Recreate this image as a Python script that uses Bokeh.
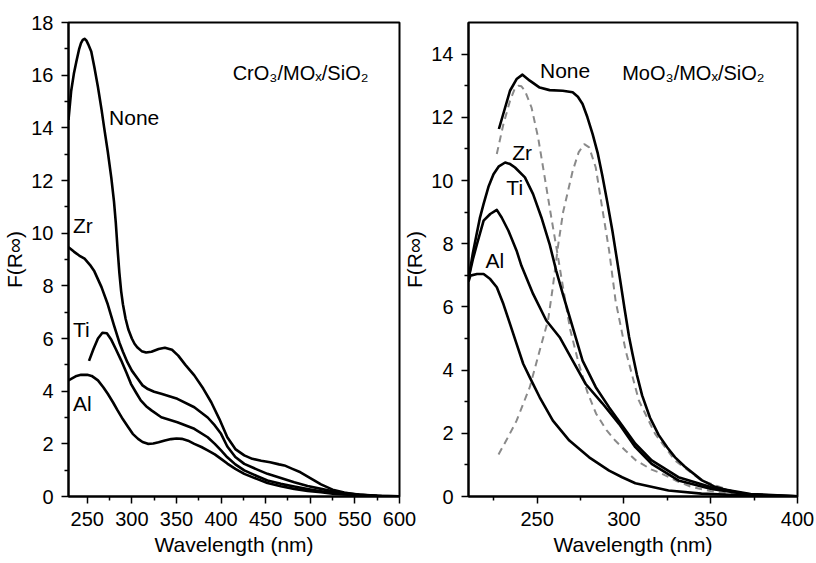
from bokeh.plotting import figure
from bokeh.layouts import row
from bokeh.models import FixedTicker, Range1d, ColumnDataSource
from bokeh.core.properties import value
from bokeh.embed import file_html
from bokeh.resources import INLINE

FONT = "Liberation Sans"

# ---------------- Left panel: CrO3/MOx/SiO2 ----------------
cr_none_wl = [229, 232, 235, 238, 241, 243, 245, 247, 249, 251, 254.5, 258, 262, 266, 269, 273, 277, 280, 282,
              284, 286, 288, 290, 293, 296, 300, 303, 306, 311, 316, 322, 330, 337, 345, 352, 360, 370, 380,
              389, 398, 407, 416, 426, 435, 445, 455, 465, 471, 480, 489, 500, 512, 525, 538, 550, 564, 580, 600]
cr_none_f = [14.3, 15.4, 16.05, 16.55, 17.0, 17.22, 17.34, 17.38, 17.32, 17.18, 16.9, 16.3, 15.55, 14.7, 14.0,
             13.1, 12.1, 11.2, 10.4, 9.4, 8.5, 7.8, 7.3, 6.75, 6.35, 6.0, 5.8, 5.67, 5.52, 5.47, 5.5, 5.6,
             5.65, 5.57, 5.35, 5.0, 4.6, 4.1, 3.58, 2.95, 2.25, 1.8, 1.56, 1.43, 1.36, 1.3, 1.22, 1.18, 1.05,
             0.92, 0.7, 0.46, 0.26, 0.15, 0.08, 0.05, 0.02, 0.01]

cr_zr_wl = [229, 235, 241, 247, 253, 258, 266, 273, 280, 286, 290, 295, 300, 307, 312, 318, 325, 333, 351, 370,
            385, 393, 400, 407, 416, 426, 440, 452, 467, 482, 497, 512, 525, 538, 555, 575, 600]
cr_zr_f = [9.47, 9.3, 9.15, 9.03, 8.8, 8.55, 7.95, 7.3, 6.5, 5.85, 5.5, 5.1, 4.78, 4.45, 4.22, 4.08, 3.98,
           3.9, 3.71, 3.39, 3.0, 2.7, 2.38, 1.9, 1.5, 1.24, 1.03, 0.86, 0.7, 0.54, 0.4, 0.29, 0.2, 0.13, 0.07,
           0.03, 0.01]

cr_ti_wl = [252, 257, 262, 267, 272, 277, 282, 288, 294, 299, 305, 310, 316, 322, 333, 351, 370, 385, 393, 400,
            407, 416, 426, 440, 452, 467, 482, 497, 512, 525, 538, 555, 575, 600]
cr_ti_f = [5.15, 5.6, 6.0, 6.22, 6.2, 5.95, 5.6, 5.17, 4.7, 4.28, 3.93, 3.65, 3.43, 3.27, 3.01, 2.82, 2.57,
           2.25, 2.0, 1.75, 1.49, 1.22, 0.99, 0.78, 0.61, 0.48, 0.38, 0.28, 0.2, 0.14, 0.1, 0.05, 0.02, 0.01]

cr_al_wl = [229, 232, 238, 243, 250, 255, 262, 268, 273, 279, 284, 290, 296, 301, 307, 312, 318, 324, 330,
            337, 344, 350, 356, 363, 370, 378, 385, 393, 400, 407, 416, 426, 440, 452, 467, 482, 497, 512,
            525, 538, 555, 575, 600]
cr_al_f = [4.41, 4.47, 4.58, 4.62, 4.62, 4.58, 4.41, 4.15, 3.9, 3.57, 3.27, 2.93, 2.63, 2.38, 2.19, 2.07,
           2.0, 2.01, 2.06, 2.13, 2.18, 2.2, 2.19, 2.12, 2.0, 1.88, 1.75, 1.6, 1.43, 1.25, 1.05, 0.86, 0.67,
           0.51, 0.39, 0.29, 0.21, 0.16, 0.11, 0.08, 0.04, 0.02, 0.01]

cr_labels = ["None", "Zr", "Ti", "Al"]
cr_label_x = [274.5, 234, 234, 234]
cr_label_y = [14.4, 10.3, 6.35, 3.53]
cr_title = "CrO\u2083/MO\u2093/SiO\u2082"
cr_title_x = [413]
cr_title_y = [16.07]

cr_x_major = [250, 300, 350, 400, 450, 500, 550, 600]
cr_x_minor = [275, 325, 375, 425, 475, 525, 575]
cr_y_major = [0, 2, 4, 6, 8, 10, 12, 14, 16, 18]
cr_y_minor = [1, 3, 5, 7, 9, 11, 13, 15, 17]

# ---------------- Right panel: MoO3/MOx/SiO2 ----------------
mo_none_wl = [228, 231.6, 234.4, 238.2, 241.6, 245.8, 251.5, 257.2, 264.8, 270.5, 273.5, 276.2, 279, 282,
              285, 287.6, 290.5, 293.4, 296, 298, 300.5, 303, 305, 307.5, 310.5, 315, 320, 325, 329.5, 335,
              345, 352, 360, 370, 379, 390, 400]
mo_none_f = [11.63, 12.31, 12.84, 13.21, 13.35, 13.16, 12.94, 12.86, 12.84, 12.79, 12.65, 12.42, 12.0, 11.47,
             10.85, 10.15, 9.3, 8.4, 7.5, 6.8, 5.9, 5.05, 4.5, 3.85, 3.2, 2.5, 1.95, 1.55, 1.24, 0.95, 0.51,
             0.32, 0.19, 0.08, 0.03, 0.01, 0.0]

mo_zr_wl = [211, 213, 215, 217, 219.2, 222, 224.9, 228, 231.6, 234.5, 237.3, 243, 247.7, 252.5, 257.2, 261,
            264.8, 270.5, 276.2, 283.8, 291.5, 299, 306.6, 316, 331.4, 350.4, 373, 400]
mo_zr_f = [7.04, 7.7, 8.25, 8.8, 9.26, 9.8, 10.2, 10.45, 10.57, 10.52, 10.41, 10.1, 9.57, 8.83, 7.99, 7.15,
           6.41, 5.36, 4.3, 3.46, 2.82, 2.25, 1.67, 1.14, 0.61, 0.29, 0.08, 0.01]

mo_ti_wl = [210.5, 213, 215.4, 219.2, 223, 226.8, 229.6, 233.5, 238.2, 241, 247.7, 255.3, 263, 270.5, 278,
            287.6, 297.2, 306.6, 316, 331.4, 350.4, 373, 400]
mo_ti_f = [6.9, 7.5, 7.99, 8.73, 8.94, 9.07, 8.83, 8.41, 7.78, 7.3, 6.41, 5.57, 5.04, 4.3, 3.56, 2.95, 2.3,
           1.56, 1.03, 0.51, 0.24, 0.06, 0.01]

mo_al_wl = [210.5, 211.6, 215.4, 219.2, 223, 226.8, 230.6, 234.4, 238.2, 242, 245.8, 251.5, 259.1, 268.6,
            280, 291.5, 299, 306.6, 325.7, 344.7, 370, 400]
mo_al_f = [6.8, 6.99, 7.04, 7.04, 6.88, 6.62, 6.09, 5.46, 4.83, 4.2, 3.77, 3.14, 2.4, 1.77, 1.24, 0.82, 0.61,
           0.42, 0.19, 0.09, 0.03, 0.01]

mo_fit1_wl = [226.8, 230.6, 234.4, 237, 239.2, 241, 243, 246.8, 250.6, 254.4, 258.2, 262, 265, 269, 274, 279,
              284, 290, 295, 301, 307, 316, 322, 330, 339, 350, 360, 375, 400]
mo_fit1_f = [10.84, 11.78, 12.52, 12.88, 13.0, 12.98, 12.84, 12.31, 11.36, 10.1, 8.83, 7.6, 6.6, 5.3, 4.2,
             3.3, 2.62, 2.1, 1.77, 1.45, 1.14, 0.85, 0.72, 0.5, 0.3, 0.17, 0.09, 0.04, 0.01]

mo_fit2_wl = [227.8, 233, 238.2, 245.8, 251.5, 256.3, 259, 262, 265, 270.5, 274, 277.2, 280, 283.8, 287.6,
              291.5, 295.2, 301, 308.6, 318, 329.5, 344.7, 363.7, 380, 400]
mo_fit2_f = [1.33, 1.85, 2.4, 3.46, 4.62, 5.57, 6.6, 7.9, 9.0, 10.3, 10.9, 11.15, 11.05, 10.41, 9.1, 7.78, 6.2,
             4.62, 3.04, 1.98, 1.14, 0.51, 0.14, 0.04, 0.01]

mo_labels = ["None", "Zr", "Ti", "Al"]
mo_label_x = [251.7, 235.7, 232.3, 220.3]
mo_label_y = [13.47, 10.88, 9.77, 7.46]
mo_title = "MoO\u2083/MO\u2093/SiO\u2082"
mo_title_x = [299]
mo_title_y = [13.4]

mo_x_major = [250, 300, 350, 400]
mo_x_minor = [225, 275, 325, 375]
mo_y_major = [0, 2, 4, 6, 8, 10, 12, 14]
mo_y_minor = [1, 3, 5, 7, 9, 11, 13]

x_label = "Wavelength (nm)"
y_label = "F(R\u221e)"


def style(p, xmaj, xmin, ymaj, ymin):
    p.grid.visible = False
    p.outline_line_color = "black"
    p.outline_line_width = 2
    p.outline_line_alpha = 1
    p.xaxis.ticker = FixedTicker(ticks=xmaj, minor_ticks=xmin)
    p.yaxis.ticker = FixedTicker(ticks=ymaj, minor_ticks=ymin)
    for ax in (p.xaxis, p.yaxis):
        ax.axis_line_width = 2
        ax.axis_line_color = "black"
        ax.major_tick_in = 0
        ax.major_tick_out = 7
        ax.minor_tick_in = 0
        ax.minor_tick_out = 4
        ax.major_tick_line_width = 1.5
        ax.minor_tick_line_width = 1.5
        ax.major_tick_line_color = "black"
        ax.minor_tick_line_color = "black"
        ax.major_label_text_font = FONT
        ax.major_label_text_font_size = "20px"
        ax.major_label_text_color = "black"
        ax.axis_label_text_font = FONT
        ax.axis_label_text_font_size = "21px"
        ax.axis_label_text_font_style = "normal"
        ax.axis_label_text_color = "black"
    p.xaxis.major_label_standoff = 8
    p.yaxis.major_label_standoff = 8
    p.xaxis.axis_label = x_label
    p.yaxis.axis_label = y_label
    p.xaxis.axis_label_standoff = 4
    p.yaxis.axis_label_standoff = 2


def add_text(p, xs, ys, texts, size="21px"):
    src = ColumnDataSource(dict(x=xs, y=ys, t=texts))
    p.text(x="x", y="y", text="t", source=src, text_font=value(FONT), text_font_size=size,
           text_color="black", text_align="left", text_baseline="middle")


# Left figure
p1 = figure(width=416, height=563, output_backend="svg", toolbar_location=None,
            x_range=Range1d(229, 600), y_range=Range1d(0, 18),
            min_border_left=67, min_border_right=17, min_border_top=22, min_border_bottom=67)
style(p1, cr_x_major, cr_x_minor, cr_y_major, cr_y_minor)
for wl, f in [(cr_none_wl, cr_none_f), (cr_zr_wl, cr_zr_f), (cr_ti_wl, cr_ti_f), (cr_al_wl, cr_al_f)]:
    p1.line(wl, f, line_color="black", line_width=2.6, line_join="round")
add_text(p1, cr_label_x, cr_label_y, cr_labels)
add_text(p1, cr_title_x, cr_title_y, [cr_title], size="20px")

# Right figure (overlaps the left canvas by 16 px; its border is transparent)
p2 = figure(width=416, height=563, output_backend="svg", toolbar_location=None,
            x_range=Range1d(210.5, 400), y_range=Range1d(0, 15),
            min_border_left=65, min_border_right=19, min_border_top=22, min_border_bottom=67)
style(p2, mo_x_major, mo_x_minor, mo_y_major, mo_y_minor)
p2.border_fill_alpha = 0
p2.margin = (0, 0, 0, -16)
for wl, f in [(mo_fit1_wl, mo_fit1_f), (mo_fit2_wl, mo_fit2_f)]:
    p2.line(wl, f, line_color="#8a8a8a", line_width=2, line_dash="7 5")
for wl, f in [(mo_none_wl, mo_none_f), (mo_zr_wl, mo_zr_f), (mo_ti_wl, mo_ti_f), (mo_al_wl, mo_al_f)]:
    p2.line(wl, f, line_color="black", line_width=2.6, line_join="round")
add_text(p2, mo_label_x, mo_label_y, mo_labels)
add_text(p2, mo_title_x, mo_title_y, [mo_title], size="20px")

layout = row(p1, p2, spacing=0)
open("out.html", "w").write(file_html(layout, INLINE))
